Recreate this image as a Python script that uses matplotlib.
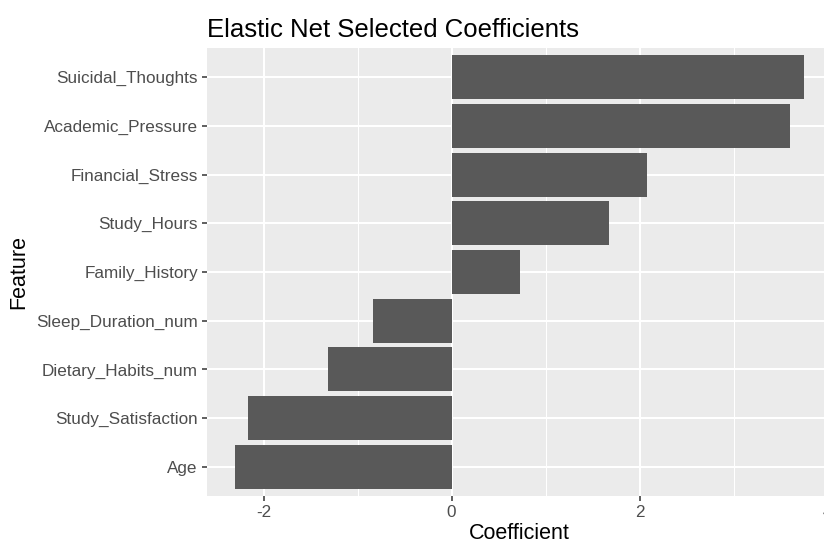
import matplotlib
matplotlib.use("Agg")
import matplotlib.pyplot as plt
from matplotlib.ticker import MultipleLocator

plt.rcParams['font.family'] = ['Liberation Sans', 'DejaVu Sans']
plt.rcParams['axes.unicode_minus'] = False

# elastic net coefficients, bottom to top
features = ["Age", "Study_Satisfaction", "Dietary_Habits_num", "Sleep_Duration_num",
            "Family_History", "Study_Hours", "Financial_Stress", "Academic_Pressure",
            "Suicidal_Thoughts"]
coefs = [-2.30, -2.17, -1.32, -0.84, 0.73, 1.67, 2.08, 3.60, 3.745]

fig = plt.figure(figsize=(8.24, 5.43), dpi=100)
ax = fig.add_axes([0.2512, 0.0866, 0.7585, 0.825])
ax.set_facecolor("#EBEBEB")

ypos = list(range(1, len(features) + 1))
ax.barh(ypos, coefs, height=0.9, color="#595959", zorder=3)

span = max(coefs) - min(coefs)
ax.set_xlim(min(coefs) - 0.05 * span, max(coefs) + 0.05 * span)
ax.set_ylim(0.4, len(features) + 0.6)

ax.xaxis.set_major_locator(MultipleLocator(2))
ax.xaxis.set_minor_locator(MultipleLocator(1))
ax.set_yticks(ypos)
ax.set_yticklabels(features)

ax.grid(which="major", color="white", linewidth=1.5, zorder=1)
ax.grid(which="minor", axis="x", color="white", linewidth=0.75, zorder=1)
ax.tick_params(which="minor", length=0)
ax.tick_params(which="major", length=3.5, width=1.1, color="#333333",
               labelcolor="#4D4D4D", labelsize=12.3, pad=3)
for s in ax.spines.values():
    s.set_visible(False)

ax.set_xlabel("Coefficient", fontsize=15.5, color="black", labelpad=2)
ax.set_ylabel("Feature", fontsize=15.5, color="black", labelpad=5)
ax.set_title("Elastic Net Selected Coefficients", fontsize=18.5, loc="left", pad=8)

fig.savefig("out.png", dpi=100)
